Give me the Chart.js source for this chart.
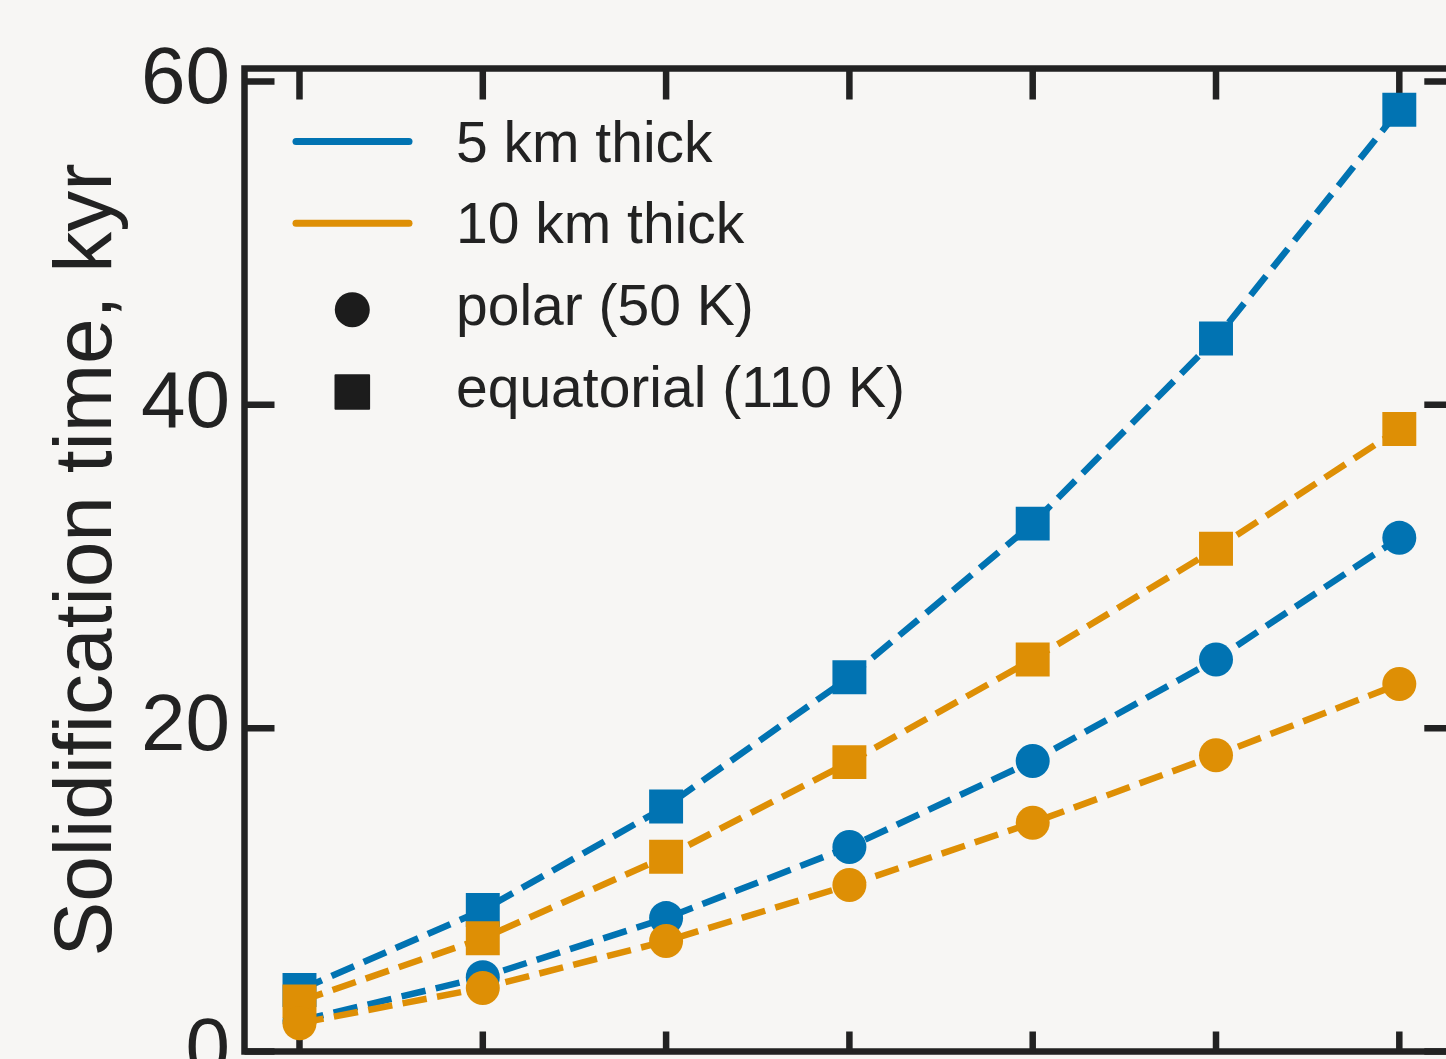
<!DOCTYPE html>
<html>
<head>
<meta charset="utf-8">
<script src="https://cdn.jsdelivr.net/npm/chart.js@4.4.1/dist/chart.umd.min.js"></script>
<style>
html, body { margin: 0; padding: 0; background: #F7F6F4; overflow: hidden; width: 1446px; height: 1059px; }
canvas { display: block; }
</style>
</head>
<body>
<canvas id="c" width="1500" height="1110"></canvas>
<script>
// ---- data ----
const categories = [1, 2, 3, 4, 5, 6, 7];
const thick5Polar = [1.9, 4.6, 8.25, 12.65, 17.97, 24.25, 31.77];
const thick5Equatorial = [3.8, 8.75, 15.15, 23.15, 32.65, 44.1, 58.25];
const thick10Polar = [1.75, 3.93, 6.83, 10.3, 14.15, 18.32, 22.73];
const thick10Equatorial = [3.1, 7.0, 12.05, 17.9, 24.25, 31.1, 38.5];
const yTicks = [0, 20, 40, 60];
const legendLabels = ['5 km thick', '10 km thick', 'polar (50 K)', 'equatorial (110 K)'];
const yTitle = 'Solidification time, kyr';

const BLUE = '#0173B2';
const ORANGE = '#DE8F05';
const INK = '#222222';
const BG = '#F7F6F4';
const FONT = '"Liberation Sans", Arial, Helvetica, sans-serif';

function pts(arr) { return categories.map((x, i) => ({ x: x, y: arr[i] })); }

function ds(label, arr, color, style, radius, order) {
  return {
    label: label,
    data: pts(arr),
    borderColor: color,
    backgroundColor: color,
    borderWidth: 6.5,
    borderDash: [24.5, 10.5],
    borderCapStyle: 'butt',
    pointStyle: style,
    pointRadius: radius,
    pointHoverRadius: radius,
    pointBackgroundColor: color,
    pointBorderWidth: 0,
    tension: 0,
    fill: false,
    order: order
  };
}

const framePlugin = {
  id: 'frame',
  beforeDraw(chart) {
    const ctx = chart.ctx;
    ctx.save();
    ctx.fillStyle = BG;
    ctx.fillRect(0, 0, chart.width, chart.height);
    ctx.restore();
  },
  beforeDatasetsDraw(chart) {
    const { ctx, chartArea: a, scales } = chart;
    const xs = scales.x, ys = scales.y;
    ctx.save();
    ctx.strokeStyle = INK;
    ctx.lineWidth = 6.5;
    ctx.lineCap = 'butt';
    ctx.strokeRect(a.left, a.top, a.right - a.left, a.bottom - a.top);
    ctx.beginPath();
    yTicks.forEach(v => {
      const py = ys.getPixelForValue(v);
      ctx.moveTo(a.left, py); ctx.lineTo(a.left + 30, py);
      ctx.moveTo(a.right, py); ctx.lineTo(a.right - 30, py);
    });
    categories.forEach(v => {
      const px = xs.getPixelForValue(v);
      ctx.moveTo(px, a.top); ctx.lineTo(px, a.top + 31);
      ctx.moveTo(px, a.bottom); ctx.lineTo(px, a.bottom - 20);
    });
    ctx.stroke();
    ctx.restore();
  },
  afterDraw(chart) {
    const ctx = chart.ctx;
    const dsets = chart.data.datasets;
    ctx.save();
    ctx.font = '57px ' + FONT;
    ctx.fillStyle = INK;
    ctx.textAlign = 'left';
    ctx.textBaseline = 'alphabetic';
    const base0 = 161.7, step = 81.67, textX = 456;
    legendLabels.forEach((t, i) => ctx.fillText(t, textX, base0 + i * step));
    // line items (5 km -> blue dataset, 10 km -> orange dataset)
    const lineColors = [dsets[2].borderColor, dsets[0].borderColor];
    ctx.lineWidth = 7;
    ctx.lineCap = 'round';
    [0, 1].forEach(i => {
      const y = base0 + i * step - 20.2;
      ctx.strokeStyle = lineColors[i];
      ctx.beginPath(); ctx.moveTo(296, y); ctx.lineTo(409, y); ctx.stroke();
    });
    // marker items
    ctx.fillStyle = '#1c1c1c';
    ctx.strokeStyle = '#1c1c1c';
    ctx.lineWidth = 2; ctx.lineJoin = 'round';
    ctx.beginPath(); ctx.arc(352.3, base0 + 2 * step - 15.3, 17.5, 0, Math.PI * 2); ctx.fill();
    const sy = base0 + 3 * step - 14.7;
    ctx.beginPath(); ctx.rect(352.3 - 16.8, sy - 16.8, 33.6, 33.6); ctx.fill(); ctx.stroke();
    ctx.restore();
  }
};

new Chart(document.getElementById('c'), {
  type: 'line',
  data: {
    datasets: [
      ds('10 km thick, polar (50 K)', thick10Polar, ORANGE, 'circle', 17, 1),
      ds('10 km thick, equatorial (110 K)', thick10Equatorial, ORANGE, 'rect', 24, 2),
      ds('5 km thick, polar (50 K)', thick5Polar, BLUE, 'circle', 17, 3),
      ds('5 km thick, equatorial (110 K)', thick5Equatorial, BLUE, 'rect', 24, 4)
    ]
  },
  options: {
    responsive: false,
    animation: false,
    devicePixelRatio: 1,
    layout: { padding: { top: 68.5, right: 45.7, bottom: 58.5, left: 0 } },
    plugins: { legend: { display: false }, tooltip: { enabled: false } },
    scales: {
      x: {
        type: 'linear',
        display: false,
        min: 0.7,
        max: 7.3
      },
      y: {
        type: 'linear',
        min: 0,
        max: 60.8,
        afterFit(scale) { scale.width = 244.5; scale.paddingTop = 0; scale.paddingBottom = 0; },
        afterBuildTicks(scale) { scale.ticks = yTicks.map(v => ({ value: v })); },
        grid: { display: false, drawTicks: false },
        border: { display: false },
        ticks: {
          padding: 14.5,
          color: INK,
          font: { family: FONT, size: 80 }
        },
        title: {
          display: true,
          text: yTitle,
          color: INK,
          font: { family: FONT, size: 82 },
          padding: { top: 39, bottom: 0 }
        }
      }
    }
  },
  plugins: [framePlugin]
});
</script>
</body>
</html>
